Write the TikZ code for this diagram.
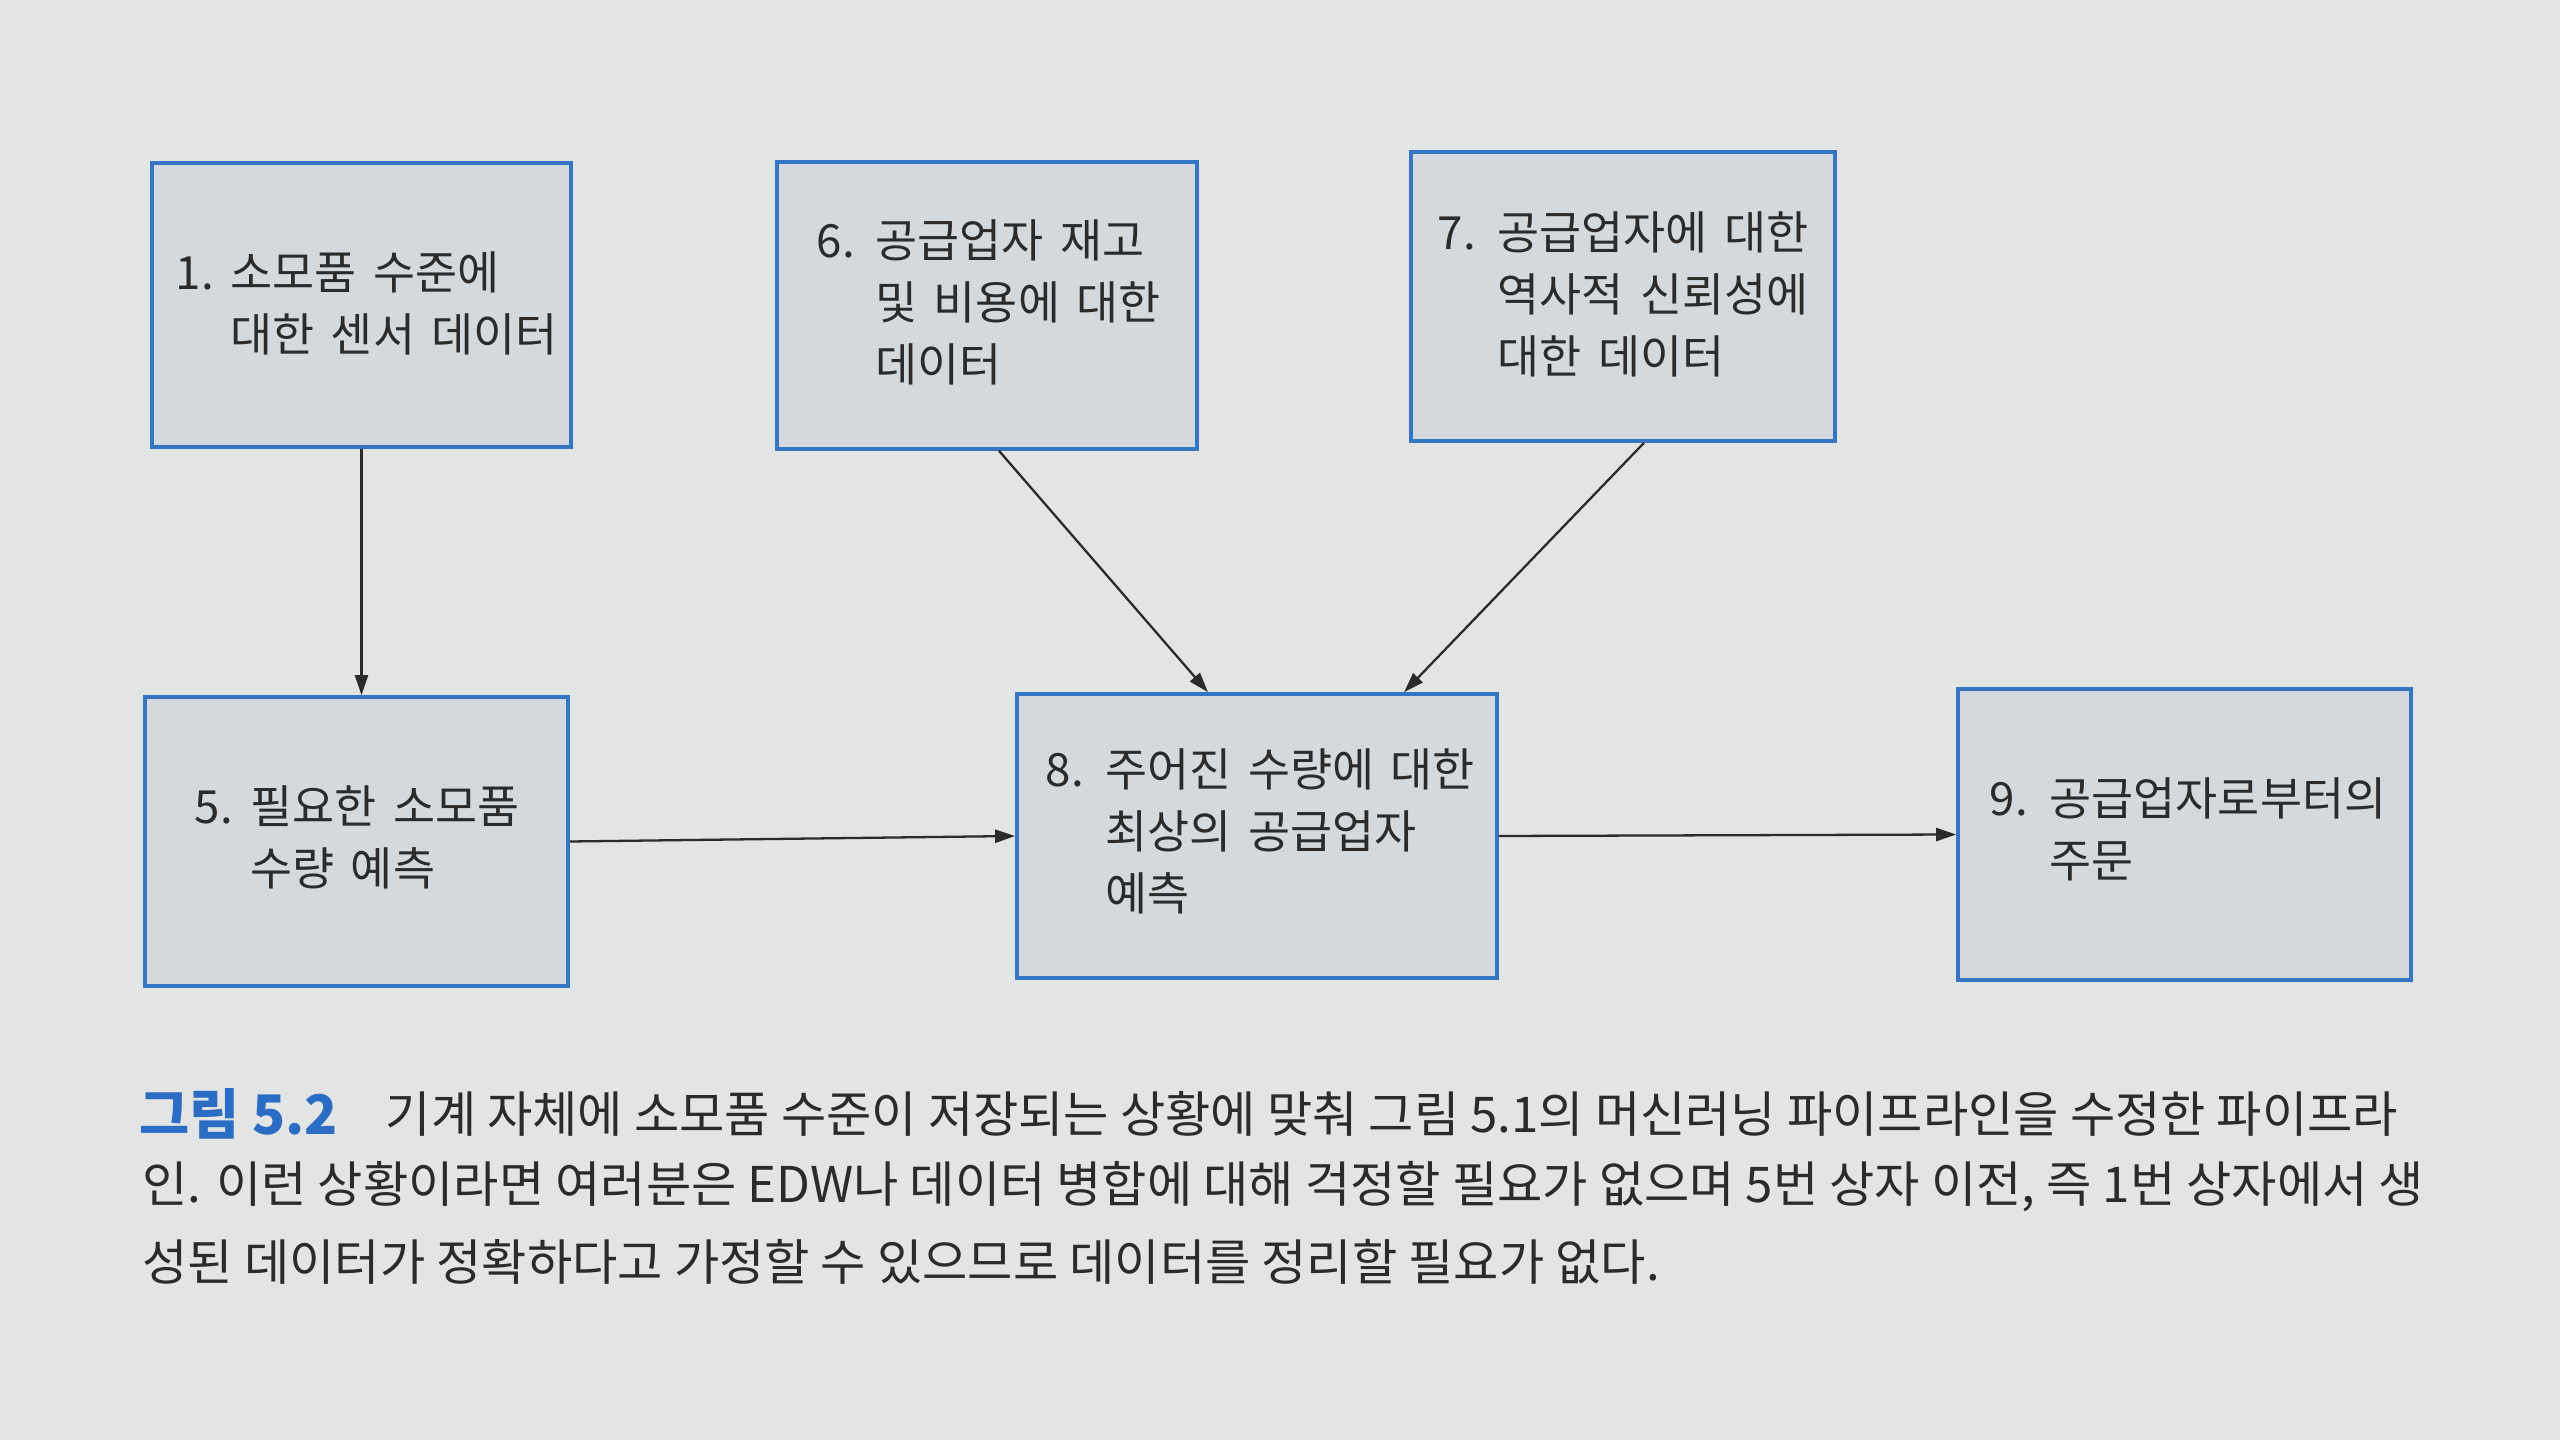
\documentclass[tikz,border=0pt]{standalone}
\usepackage{fontspec}
\newfontfamily\kr{Noto Sans CJK KR}
\usetikzlibrary{arrows.meta,calc}
\definecolor{bg}{HTML}{E3E5E4}
\definecolor{boxfill}{HTML}{D3D9DD}
\definecolor{boxline}{HTML}{3575C4}
\definecolor{capblue}{HTML}{2B6CC4}
\definecolor{ink}{HTML}{2B2B2B}
\newcommand\myboxfont{\kr\fontsize{13pt}{17.6pt}\selectfont\setlength{\spaceskip}{4.6pt}}
\begin{document}
\begin{tikzpicture}[x=0.01cm,y=-0.01cm,
  stepbox/.style={draw=boxline, fill=boxfill, line width=1pt, inner sep=0pt},
  boxtext/.style={anchor=west, inner sep=0pt, font=\myboxfont, text=ink},
  flow/.style={-{Triangle[length=0.2cm,width=0.13cm]}, line width=0.65pt, draw=ink},
  captext/.style={anchor=west, inner sep=0pt, font=\kr\fontsize{14pt}{18pt}\selectfont, text=ink}]
\fill[bg] (0,0) rectangle (2560,1440);
\useasboundingbox (0,0) rectangle (2560,1440);

% boxes
\node[stepbox, minimum width=4.19cm, minimum height=2.84cm] (b1) at (361.5,305) {};
\node[stepbox, minimum width=4.20cm, minimum height=2.87cm] (b6) at (987,305.5) {};
\node[stepbox, minimum width=4.24cm, minimum height=2.89cm] (b7) at (1623,296.5) {};
\node[stepbox, minimum width=4.23cm, minimum height=2.89cm] (b5) at (356.5,841.5) {};
\node[stepbox, minimum width=4.80cm, minimum height=2.84cm] (b8) at (1257,836) {};
\node[stepbox, minimum width=4.53cm, minimum height=2.91cm] (b9) at (2184.5,834.5) {};

% box texts
\node[boxtext] (t1) at (175,308) {\begin{tabular}{@{}p{0.55cm}@{}l@{}}1. & 소모품 수준에\\ & 대한 센서 데이터\end{tabular}};
\node[boxtext] (t6) at (816,307) {\begin{tabular}{@{}p{0.59cm}@{}l@{}}6. & 공급업자 재고\\ & 및 비용에 대한\\ & 데이터\end{tabular}};
\node[boxtext] (t7) at (1437,299) {\begin{tabular}{@{}p{0.60cm}@{}l@{}}7. & 공급업자에 대한\\ & 역사적 신뢰성에\\ & 대한 데이터\end{tabular}};
\node[boxtext] (t5) at (194,842) {\begin{tabular}{@{}p{0.56cm}@{}l@{}}5. & 필요한 소모품\\ & 수량 예측\end{tabular}};
\node[boxtext] (t8) at (1045,836) {\begin{tabular}{@{}p{0.60cm}@{}l@{}}8. & 주어진 수량에 대한\\ & 최상의 공급업자\\ & 예측\end{tabular}};
\node[boxtext] (t9) at (1989,834) {\begin{tabular}{@{}p{0.60cm}@{}l@{}}9. & 공급업자로부터의\\ & 주문\end{tabular}};

% connectors
\draw[flow] (b1.south) -- (b1.south |- b5.north);
\draw[flow] ([xshift=0.12cm]b6.south) -- ([xshift=-0.49cm]b8.north);
\draw[flow] ([xshift=0.21cm]b7.south) -- ([xshift=1.47cm]b8.north);
\draw[flow] (b5.east) -- (b8.west);
\draw[flow] (b8.east) -- (b9.west);

% caption
\node[anchor=west, inner sep=0pt, font=\kr\bfseries\fontsize{15.5pt}{18pt}\selectfont, text=capblue] (cl) at (139,1114) {그림 5.2};
\node[captext] (c1) at (385,1114) {기계 자체에 소모품 수준이 저장되는 상황에 맞춰 그림 5.1의 머신러닝 파이프라인을 수정한 파이프라};
\node[captext] (c2) at (142,1187) {인. 이런 상황이라면 여러분은 EDW나 데이터 병합에 대해 걱정할 필요가 없으며 5번 상자 이전, 즉 1번 상자에서 생};
\node[captext] (c3) at (142,1262) {성된 데이터가 정확하다고 가정할 수 있으므로 데이터를 정리할 필요가 없다.};
\end{tikzpicture}
\end{document}
